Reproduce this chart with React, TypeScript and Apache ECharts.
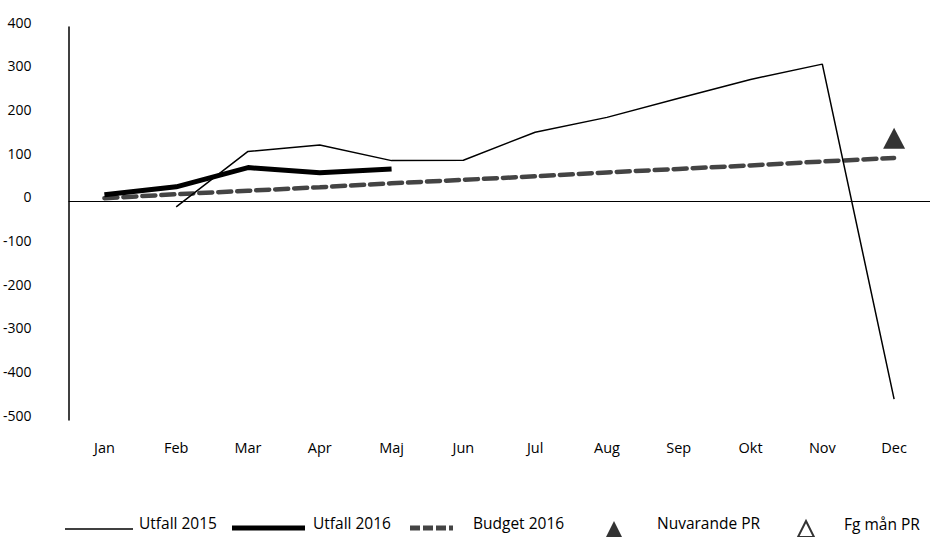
import React, { useEffect, useRef } from "react";
import * as echarts from "echarts";

const months = ["Jan", "Feb", "Mar", "Apr", "Maj", "Jun", "Jul", "Aug", "Sep", "Okt", "Nov", "Dec"];
const utfall2015 = ["-", -12, 115, 130, 94, 95, 159, 193, 237, 280, 315, -452];
const utfall2016 = [16, 34, 78, 66, 75, "-", "-", "-", "-", "-", "-", "-"];
const budget2016 = [8, 17, 25, 33, 42, 50, 58, 67, 75, 83, 92, 100];
const nuvarandePR = ["-", "-", "-", "-", "-", "-", "-", "-", "-", "-", "-", 145];
const fgManPR: (number | string)[] = [];
const yTicks = { min: -500, max: 400, interval: 100 };

const FONT = "'Open Sans', 'Noto Sans', sans-serif";

// legend icons (leading M points reserve empty space so the mark sits below the text centre)
const ICON_THIN = "path://M0,0 M0,18 M0,14.25 L68,14.25 L68,15.75 L0,15.75 Z";
const ICON_THICK = "path://M0,0 M0,18 M0,11.5 L73,11.5 L73,16.5 L0,16.5 Z";
const ICON_DASH =
  "path://M0,0 M0,18 M0,11.5 L10,11.5 L10,16.5 L0,16.5 Z M13,11.5 L23,11.5 L23,16.5 L13,16.5 Z M26,11.5 L36,11.5 L36,16.5 L26,16.5 Z M39,11.5 L43,11.5 L43,16.5 L39,16.5 Z";
const ICON_TRI = "path://M0,0 M0,34 M9.5,15 L19,34 L0,34 Z";
const ICON_TRI_OPEN = "path://M0,0 M0,34 M8,14 L16,30 L0,30 Z";

export default function App() {
  const ref = useRef<HTMLDivElement>(null);
  useEffect(() => {
    if (!ref.current) return;
    const chart = echarts.init(ref.current, undefined, { renderer: "svg" });
    const lt = (padLeft: number) => ({
      color: "#000",
      fontSize: 15.5,
      fontFamily: FONT,
      lineHeight: 18,
      padding: [0, 0, 0, padLeft],
    });
    chart.setOption({
      animation: false,
      backgroundColor: "#fff",
      grid: { left: 68, right: -4, top: 27, bottom: 117, containLabel: false },
      xAxis: {
        type: "category",
        data: months,
        boundaryGap: true,
        axisLine: { show: false },
        axisTick: { show: false },
        axisLabel: { color: "#000", fontSize: 14.5, fontFamily: FONT, margin: 20 },
        splitLine: { show: false },
      },
      yAxis: {
        type: "value",
        min: yTicks.min,
        max: yTicks.max,
        interval: yTicks.interval,
        axisLine: { show: true, lineStyle: { color: "#000", width: 1.5 } },
        axisTick: { show: false },
        splitLine: { show: false },
        axisLabel: {
          color: "#000",
          fontSize: 14,
          fontFamily: FONT,
          margin: 37,
          verticalAlign: "bottom",
          lineHeight: 10,
        },
      },
      legend: [
        {
          data: [{ name: "Utfall 2015", icon: ICON_THIN }],
          left: 65, top: 514, padding: 0, itemWidth: 68, itemHeight: 18,
          textStyle: lt(1), selectedMode: false,
        },
        {
          data: [{ name: "Utfall 2016", icon: ICON_THICK }],
          left: 232, top: 514, padding: 0, itemWidth: 73, itemHeight: 18,
          textStyle: lt(3), selectedMode: false,
        },
        {
          data: [{ name: "Budget 2016", icon: ICON_DASH }],
          left: 410, top: 514, padding: 0, itemWidth: 43, itemHeight: 18,
          textStyle: lt(15), selectedMode: false,
        },
        {
          data: [{ name: "Nuvarande PR", icon: ICON_TRI }],
          left: 604.5, top: 506, padding: 0, itemWidth: 19, itemHeight: 34,
          textStyle: lt(28.5), selectedMode: false,
        },
        {
          data: [{ name: "Fg mån PR", icon: ICON_TRI_OPEN }],
          left: 797, top: 506, padding: 0, itemWidth: 16, itemHeight: 34,
          textStyle: lt(25), selectedMode: false,
        },
      ],
      series: [
        {
          name: "Utfall 2015",
          type: "line",
          data: utfall2015,
          symbol: "none",
          lineStyle: { color: "#000", width: 1.5 },
          itemStyle: { color: "#000" },
          z: 3,
          markLine: {
            silent: true,
            symbol: "none",
            label: { show: false },
            lineStyle: { color: "#000", width: 1, type: "solid" },
            data: [{ yAxis: 0 }],
          },
        },
        {
          name: "Utfall 2016",
          type: "line",
          data: utfall2016,
          symbol: "none",
          lineStyle: { color: "#000", width: 5 },
          itemStyle: { color: "#000" },
          z: 4,
        },
        {
          name: "Budget 2016",
          type: "line",
          data: budget2016,
          symbol: "none",
          lineStyle: { color: "#444", width: 4.5, type: [13, 6], cap: "round" },
          itemStyle: { color: "#444" },
          z: 2,
        },
        {
          name: "Nuvarande PR",
          type: "scatter",
          data: nuvarandePR,
          symbol: "triangle",
          symbolSize: [22, 21],
          itemStyle: { color: "#000" },
        },
        {
          name: "Fg mån PR",
          type: "scatter",
          data: fgManPR,
          symbol: "triangle",
          symbolSize: [22, 21],
          itemStyle: { color: "#fff", borderColor: "#000", borderWidth: 1.2 },
        },
      ],
    });
    return () => chart.dispose();
  }, []);
  return <div ref={ref} style={{ width: 930, height: 537, position: "absolute", left: 0, top: 0 }} />;
}
